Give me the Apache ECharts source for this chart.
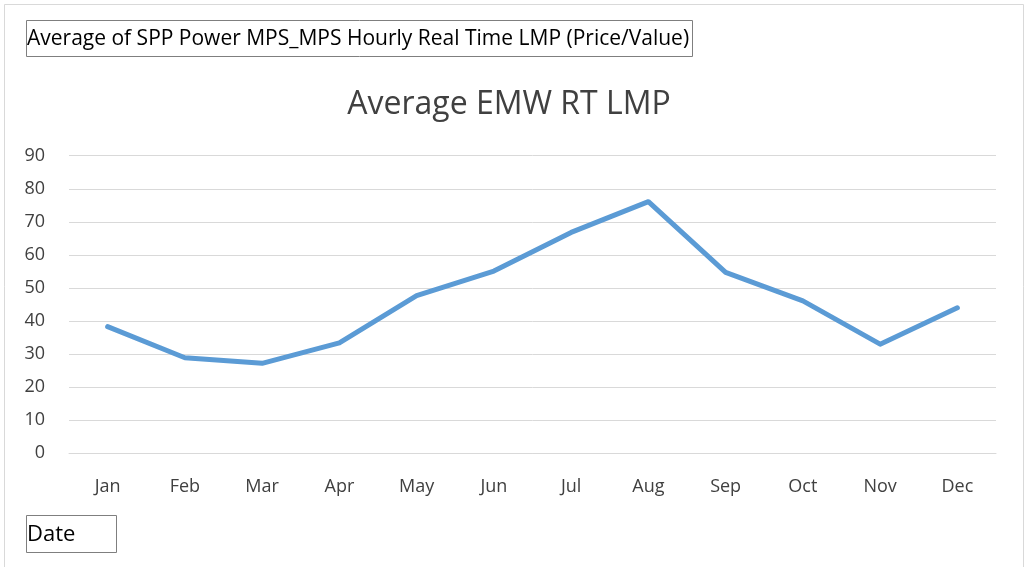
<!DOCTYPE html>
<html>
<head>
<meta charset="utf-8">
<script src="https://cdn.jsdelivr.net/npm/echarts@6/dist/echarts.min.js"></script>
<style>
html,body{margin:0;padding:0;background:#fff;}
#chart{width:1025px;height:567px;}
</style>
</head>
<body>
<div id="chart"></div>
<script>
const months = ['Jan','Feb','Mar','Apr','May','Jun','Jul','Aug','Sep','Oct','Nov','Dec'];
const lmpValues = [38.3, 28.9, 27.2, 33.4, 47.7, 55.1, 66.8, 76.1, 54.7, 46.1, 33.0, 44.0];
const yTicks = {min: 0, max: 90, interval: 10};
const chartTitle = 'Average EMW RT LMP';
const filterLabel = 'Average of SPP Power MPS_MPS Hourly Real Time LMP (Price/Value)';
const axisFieldLabel = 'Date';

const FONT = '"Open Sans", sans-serif';
const chart = echarts.init(document.getElementById('chart'), null, {renderer: 'canvas'});
chart.setOption({
  backgroundColor: '#ffffff',
  animation: false,
  title: {
    text: chartTitle,
    left: 509,
    textAlign: 'center',
    top: 89,
    padding: 0,
    textStyle: {fontFamily: FONT, fontSize: 32, fontWeight: 'normal', color: '#404040'}
  },
  grid: {left: 69, right: 29, top: 155.7, bottom: 113.7, containLabel: false},
  xAxis: {
    type: 'category',
    data: months,
    boundaryGap: true,
    axisLine: {show: true, lineStyle: {color: '#d9d9d9', width: 1}},
    axisTick: {show: false},
    axisLabel: {fontFamily: FONT, fontSize: 18, color: '#404040', margin: 25}
  },
  yAxis: {
    type: 'value',
    min: yTicks.min, max: yTicks.max, interval: yTicks.interval,
    axisLine: {show: false},
    axisTick: {show: false},
    splitLine: {show: true, lineStyle: {color: '#d9d9d9', width: 1}},
    axisLabel: {fontFamily: FONT, fontSize: 18, color: '#404040', margin: 24}
  },
  series: [{
    type: 'line',
    data: lmpValues,
    showSymbol: false,
    symbol: 'none',
    lineStyle: {color: '#5B9BD5', width: 5, cap: 'round', join: 'round'},
    itemStyle: {color: '#5B9BD5'}
  }],
  graphic: [
    {type: 'rect', z: 0, silent: true, shape: {x: 4.5, y: 4.5, width: 1019, height: 600},
     style: {fill: 'none', stroke: '#d9d9d9', lineWidth: 1}},
    {type: 'rect', z: 10, shape: {x: 26.5, y: 20.5, width: 666, height: 36},
     style: {fill: '#ffffff', stroke: '#7f7f7f', lineWidth: 1}},
    {type: 'text', z: 11, x: 27, y: 39,
     style: {text: filterLabel, font: '21px ' + FONT, fill: '#000000', textVerticalAlign: 'middle', textAlign: 'left'}},
    {type: 'rect', z: 10, shape: {x: 26.5, y: 515.5, width: 90, height: 37},
     style: {fill: '#ffffff', stroke: '#7f7f7f', lineWidth: 1}},
    {type: 'text', z: 11, x: 27, y: 535,
     style: {text: axisFieldLabel, font: '22px ' + FONT, fill: '#000000', textVerticalAlign: 'middle', textAlign: 'left'}}
  ]
});
</script>
</body>
</html>
